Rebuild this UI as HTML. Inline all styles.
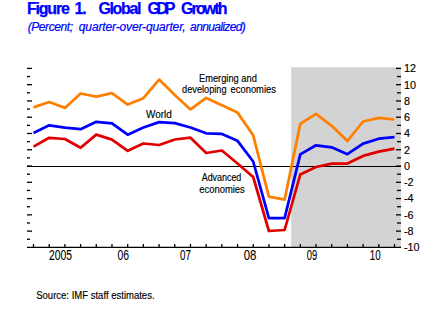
<!DOCTYPE html>
<html><head><meta charset="utf-8"><style>
html,body{margin:0;padding:0;background:#fff;width:428px;height:314px;overflow:hidden}
svg{position:absolute;left:0;top:0;font-family:"Liberation Sans",sans-serif}
</style></head><body>
<svg width="428" height="314" viewBox="0 0 428 314">
<rect x="291.2" y="67.3" width="109.7" height="180.1" fill="#d3d3d3"/>
<g stroke="#000" stroke-width="1.3"><line x1="27" y1="239.26" x2="30" y2="239.26"/><line x1="397" y1="239.26" x2="401" y2="239.26"/><line x1="27" y1="231.13" x2="32" y2="231.13"/><line x1="396" y1="231.13" x2="401" y2="231.13"/><line x1="27" y1="222.99" x2="30" y2="222.99"/><line x1="397" y1="222.99" x2="401" y2="222.99"/><line x1="27" y1="214.85" x2="32" y2="214.85"/><line x1="396" y1="214.85" x2="401" y2="214.85"/><line x1="27" y1="206.72" x2="30" y2="206.72"/><line x1="397" y1="206.72" x2="401" y2="206.72"/><line x1="27" y1="198.58" x2="32" y2="198.58"/><line x1="396" y1="198.58" x2="401" y2="198.58"/><line x1="27" y1="190.45" x2="30" y2="190.45"/><line x1="397" y1="190.45" x2="401" y2="190.45"/><line x1="27" y1="182.31" x2="32" y2="182.31"/><line x1="396" y1="182.31" x2="401" y2="182.31"/><line x1="27" y1="174.17" x2="30" y2="174.17"/><line x1="397" y1="174.17" x2="401" y2="174.17"/><line x1="27" y1="166.04" x2="32" y2="166.04"/><line x1="396" y1="166.04" x2="401" y2="166.04"/><line x1="27" y1="157.90" x2="30" y2="157.90"/><line x1="397" y1="157.90" x2="401" y2="157.90"/><line x1="27" y1="149.76" x2="32" y2="149.76"/><line x1="396" y1="149.76" x2="401" y2="149.76"/><line x1="27" y1="141.63" x2="30" y2="141.63"/><line x1="397" y1="141.63" x2="401" y2="141.63"/><line x1="27" y1="133.49" x2="32" y2="133.49"/><line x1="396" y1="133.49" x2="401" y2="133.49"/><line x1="27" y1="125.35" x2="30" y2="125.35"/><line x1="397" y1="125.35" x2="401" y2="125.35"/><line x1="27" y1="117.22" x2="32" y2="117.22"/><line x1="396" y1="117.22" x2="401" y2="117.22"/><line x1="27" y1="109.08" x2="30" y2="109.08"/><line x1="397" y1="109.08" x2="401" y2="109.08"/><line x1="27" y1="100.95" x2="32" y2="100.95"/><line x1="396" y1="100.95" x2="401" y2="100.95"/><line x1="27" y1="92.81" x2="30" y2="92.81"/><line x1="397" y1="92.81" x2="401" y2="92.81"/><line x1="27" y1="84.67" x2="32" y2="84.67"/><line x1="396" y1="84.67" x2="401" y2="84.67"/><line x1="27" y1="76.54" x2="30" y2="76.54"/><line x1="397" y1="76.54" x2="401" y2="76.54"/><line x1="27" y1="68.40" x2="32" y2="68.40"/><line x1="396" y1="68.40" x2="401" y2="68.40"/><line x1="33.50" y1="244" x2="33.50" y2="247.4"/><line x1="49.20" y1="244" x2="49.20" y2="247.4"/><line x1="64.89" y1="244" x2="64.89" y2="247.4"/><line x1="80.59" y1="244" x2="80.59" y2="247.4"/><line x1="96.28" y1="244" x2="96.28" y2="247.4"/><line x1="111.98" y1="244" x2="111.98" y2="247.4"/><line x1="127.68" y1="244" x2="127.68" y2="247.4"/><line x1="143.37" y1="244" x2="143.37" y2="247.4"/><line x1="159.07" y1="244" x2="159.07" y2="247.4"/><line x1="174.76" y1="244" x2="174.76" y2="247.4"/><line x1="190.46" y1="244" x2="190.46" y2="247.4"/><line x1="206.16" y1="244" x2="206.16" y2="247.4"/><line x1="221.85" y1="244" x2="221.85" y2="247.4"/><line x1="237.55" y1="244" x2="237.55" y2="247.4"/><line x1="253.24" y1="244" x2="253.24" y2="247.4"/><line x1="268.94" y1="244" x2="268.94" y2="247.4"/><line x1="284.64" y1="244" x2="284.64" y2="247.4"/><line x1="300.33" y1="244" x2="300.33" y2="247.4"/><line x1="316.03" y1="244" x2="316.03" y2="247.4"/><line x1="331.72" y1="244" x2="331.72" y2="247.4"/><line x1="347.42" y1="244" x2="347.42" y2="247.4"/><line x1="363.12" y1="244" x2="363.12" y2="247.4"/><line x1="378.81" y1="244" x2="378.81" y2="247.4"/><line x1="394.51" y1="244" x2="394.51" y2="247.4"/></g>
<line x1="27" y1="166.5" x2="401" y2="166.5" stroke="#000" stroke-width="1.15"/>
<line x1="27" y1="247.4" x2="401" y2="247.4" stroke="#000" stroke-width="1.4"/>
<g fill="none" stroke-width="2.75" stroke-linejoin="round">
<polyline points="33.5,107.4 49.2,102.0 64.9,107.9 80.6,93.5 96.3,96.7 112.0,93.2 127.7,104.6 143.4,98.2 159.1,79.6 174.8,95.0 190.5,109.4 206.2,97.9 221.9,105.3 237.5,112.6 253.2,135.3 268.9,196.6 284.6,199.7 300.3,123.8 316.0,113.8 331.7,125.8 347.4,141.0 363.1,121.5 378.8,117.8 394.5,119.5" stroke="#ff8000"/>
<polyline points="33.5,133.0 49.2,125.3 64.9,127.7 80.6,129.2 96.3,121.8 112.0,123.4 127.7,134.7 143.4,127.5 159.1,122.1 174.8,123.2 190.5,127.5 206.2,133.3 221.9,133.9 237.5,140.8 253.2,161.5 268.9,218.2 284.6,218.2 300.3,154.4 316.0,145.3 331.7,147.3 347.4,154.2 363.1,143.6 378.8,138.7 394.5,137.2" stroke="#0000ff"/>
<polyline points="33.5,146.6 49.2,137.8 64.9,139.0 80.6,147.8 96.3,134.6 112.0,139.6 127.7,150.8 143.4,143.5 159.1,145.0 174.8,139.5 190.5,137.7 206.2,153.0 221.9,150.5 237.5,163.5 253.2,177.0 268.9,231.0 284.6,230.0 300.3,174.5 316.0,167.0 331.7,163.6 347.4,163.6 363.1,155.9 378.8,151.6 394.5,148.7" stroke="#e00000"/>
</g>
<g font-size="10.8" fill="#000" stroke="#000" stroke-width="0.15"><text x="404" y="251.2">-10</text><text x="404" y="234.9">-8</text><text x="404" y="218.7">-6</text><text x="404" y="202.4">-4</text><text x="404" y="186.1">-2</text><text x="404" y="169.8">0</text><text x="404" y="153.6">2</text><text x="404" y="137.3">4</text><text x="404" y="121.0">6</text><text x="404" y="104.7">8</text><text x="404" y="88.5">10</text><text x="404" y="72.2">12</text></g>
<text x="26.90" y="14.1" font-size="16" font-weight="bold" font-style="normal" fill="#0000ff" textLength="43.00" lengthAdjust="spacing" stroke="#0000ff" stroke-width="0.25">Figure</text><text x="74.50" y="14.1" font-size="16" font-weight="bold" font-style="normal" fill="#0000ff" textLength="12.30" lengthAdjust="spacing" stroke="#0000ff" stroke-width="0.25">1.</text><text x="98.40" y="14.1" font-size="16" font-weight="bold" font-style="normal" fill="#0000ff" textLength="43.10" lengthAdjust="spacing" stroke="#0000ff" stroke-width="0.25">Global</text><text x="147.40" y="14.1" font-size="16" font-weight="bold" font-style="normal" fill="#0000ff" textLength="27.90" lengthAdjust="spacing" stroke="#0000ff" stroke-width="0.25">GDP</text><text x="181.00" y="14.1" font-size="16" font-weight="bold" font-style="normal" fill="#0000ff" textLength="46.50" lengthAdjust="spacing" stroke="#0000ff" stroke-width="0.25">Growth</text><text x="27.70" y="30.8" font-size="12" font-weight="normal" font-style="italic" fill="#0000ff" textLength="45.30" lengthAdjust="spacing" stroke="#0000ff" stroke-width="0.2">(Percent;</text><text x="78.80" y="30.8" font-size="12" font-weight="normal" font-style="italic" fill="#0000ff" textLength="106.90" lengthAdjust="spacing" stroke="#0000ff" stroke-width="0.2">quarter-over-quarter,</text><text x="190.10" y="30.8" font-size="12" font-weight="normal" font-style="italic" fill="#0000ff" textLength="55.70" lengthAdjust="spacing" stroke="#0000ff" stroke-width="0.2">annualized)</text><text x="199.00" y="81.7" font-size="10" font-weight="normal" font-style="normal" fill="#000" textLength="57.80" lengthAdjust="spacingAndGlyphs" stroke="#000" stroke-width="0.15">Emerging and</text><text x="182.10" y="93.3" font-size="10" font-weight="normal" font-style="normal" fill="#000" textLength="44.40" lengthAdjust="spacingAndGlyphs" stroke="#000" stroke-width="0.15">developing</text><text x="230.60" y="93.3" font-size="10" font-weight="normal" font-style="normal" fill="#000" textLength="45.30" lengthAdjust="spacingAndGlyphs" stroke="#000" stroke-width="0.15">economies</text><text x="146.10" y="117.6" font-size="10" font-weight="normal" font-style="normal" fill="#000" textLength="25.70" lengthAdjust="spacingAndGlyphs" stroke="#000" stroke-width="0.15">World</text><text x="201.70" y="180.6" font-size="10" font-weight="normal" font-style="normal" fill="#000" textLength="39.60" lengthAdjust="spacingAndGlyphs" stroke="#000" stroke-width="0.15">Advanced</text><text x="199.20" y="192.5" font-size="10" font-weight="normal" font-style="normal" fill="#000" textLength="45.60" lengthAdjust="spacingAndGlyphs" stroke="#000" stroke-width="0.15">economies</text><text x="36.20" y="298.7" font-size="10" font-weight="normal" font-style="normal" fill="#000" textLength="118.40" lengthAdjust="spacingAndGlyphs" stroke="#000" stroke-width="0.15">Source: IMF staff estimates.</text><text x="48.90" y="260.3" font-size="15" font-weight="normal" font-style="normal" fill="#000" textLength="23.10" lengthAdjust="spacingAndGlyphs" stroke="#000" stroke-width="0.1">2005</text><text x="117.40" y="260.3" font-size="15" font-weight="normal" font-style="normal" fill="#000" textLength="11.50" lengthAdjust="spacingAndGlyphs" stroke="#000" stroke-width="0.1">06</text><text x="180.00" y="260.3" font-size="15" font-weight="normal" font-style="normal" fill="#000" textLength="10.90" lengthAdjust="spacingAndGlyphs" stroke="#000" stroke-width="0.1">07</text><text x="243.70" y="260.3" font-size="15" font-weight="normal" font-style="normal" fill="#000" textLength="12.60" lengthAdjust="spacingAndGlyphs" stroke="#000" stroke-width="0.1">08</text><text x="306.70" y="260.3" font-size="15" font-weight="normal" font-style="normal" fill="#000" textLength="10.50" lengthAdjust="spacingAndGlyphs" stroke="#000" stroke-width="0.1">09</text><text x="369.80" y="260.3" font-size="15" font-weight="normal" font-style="normal" fill="#000" textLength="10.90" lengthAdjust="spacingAndGlyphs" stroke="#000" stroke-width="0.1">10</text>
</svg>
</body></html>
